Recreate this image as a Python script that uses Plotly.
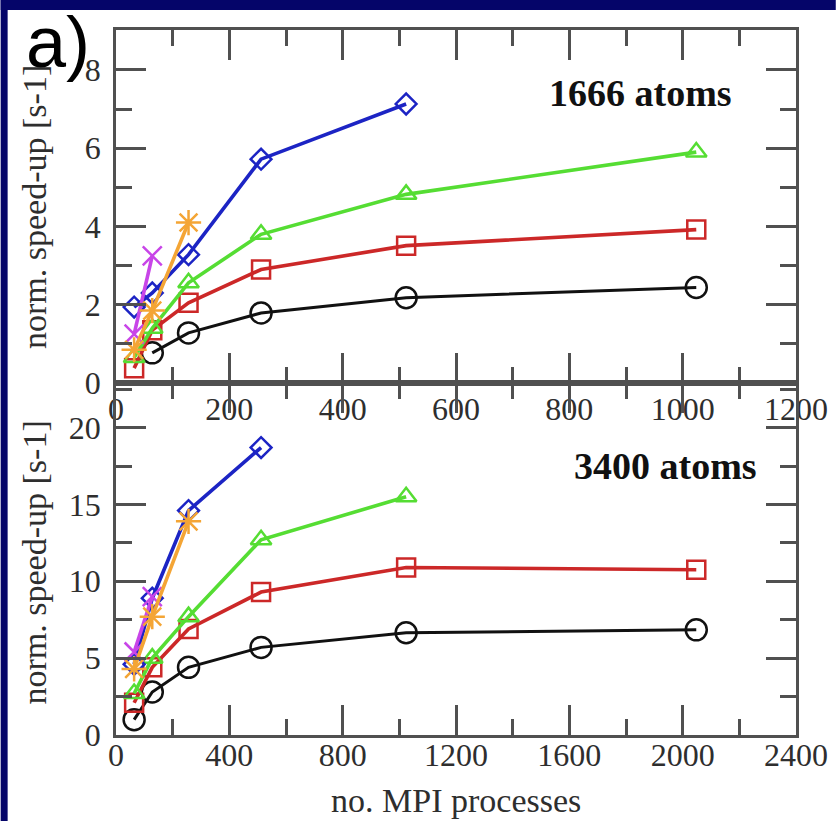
import plotly.graph_objects as go

# ---------------- data ----------------
# top panel: 1666 atoms
x_top = [32, 64, 128, 256, 512, 1024]
top_black = [None, 0.77, 1.28, 1.79, 2.18, 2.44]
top_red = [0.38, 1.35, 2.05, 2.90, 3.51, 3.92]
top_green = [0.65, 1.40, 2.56, 3.80, 4.82, 5.90]
top_blue = [1.94, 2.30, 3.28, 5.72, 7.13, None]
top_magenta = [1.25, 3.25, None, None, None, None]
top_orange = [0.85, 1.85, 4.10, None, None, None]

# bottom panel: 3400 atoms
x_bot = [64, 128, 256, 512, 1024, 2048]
bot_black = [1.0, 2.8, 4.4, 5.7, 6.65, 6.84]
bot_red = [2.1, 4.4, 6.9, 9.3, 10.9, 10.75]
bot_green = [2.7, 5.0, 7.7, 12.7, 15.5, None]
bot_blue = [4.6, 8.9, 14.6, 18.7, None, None]
bot_magenta = [5.4, 9.0, None, None, None, None]
bot_orange = [4.3, 7.7, 13.9, None, None, None]

top_label = "1666 atoms"
bot_label = "3400 atoms"
y_title = "norm. speed-up [s-1]"
x_title = "no. MPI processes"

# ---------------- styles ----------------
series_style = [
    ("black", "#111111", "circle-open", 21),
    ("red", "#cc2828", "square-open", 18),
    ("green", "#55dd33", "triangle-up-open", 18),
    ("blue", "#1c24c4", "diamond-open", 16),
    ("magenta", "#c845e8", "x-thin-open", 19),
    ("orange", "#f4a535", "asterisk-open", 21),
]
top_data = [top_black, top_red, top_green, top_blue, top_magenta, top_orange]
bot_data = [bot_black, bot_red, bot_green, bot_blue, bot_magenta, bot_orange]

fig = go.Figure()

def add(xs, ys, style, xa, ya):
    name, color, sym, size = style
    pts = [(x, y) for x, y in zip(xs, ys) if y is not None]
    fig.add_trace(go.Scatter(
        x=[p[0] for p in pts], y=[p[1] for p in pts],
        mode="lines+markers", xaxis=xa, yaxis=ya, showlegend=False,
        line=dict(color=color, width=3.6 if name != "black" else 3),
        marker=dict(symbol=sym, size=size, color=color,
                    line=dict(color=color, width=2.5)),
        cliponaxis=False,
    ))

for st, d in zip(series_style, top_data):
    add(x_top, d, st, "x", "y")
for st, d in zip(series_style, bot_data):
    add(x_bot, d, st, "x2", "y2")

# ---------------- layout ----------------
W, H = 840, 821
ML, MR, MT, MB = 116, 40, 30, 86
PW, PH = W - ML - MR, H - MT - MB

def px2paper_x(px):
    return (px - ML) / PW

def px2paper_y(py):
    return (H - MB - py) / PH

split = px2paper_y(383)

tickfont = dict(family="Liberation Serif", size=32, color="#2e2e2e")
axcol = "#505050"

def axis_common(**kw):
    d = dict(showline=True, linecolor=axcol, linewidth=2.8, mirror="ticks",
             ticks="inside", ticklen=30, tickwidth=2.5, tickcolor=axcol,
             showgrid=False, zeroline=False, tickfont=tickfont,
             ticklabelstandoff=6)
    d.update(kw)
    return d

fig.update_layout(
    width=W, height=H,
    margin=dict(l=ML, r=MR, t=MT, b=MB),
    paper_bgcolor="white", plot_bgcolor="white",
    xaxis=axis_common(domain=[0, 1], anchor="y", range=[0, 1200], dtick=200, tick0=0,
                      ticklabelstandoff=-4,
                      minor=dict(dtick=100, ticklen=16, tickwidth=2.5, tickcolor=axcol, ticks="inside")),
    yaxis=axis_common(domain=[split, 1], anchor="x", range=[0, 9.02], dtick=2, tick0=0,
                      minor=dict(dtick=1, ticklen=16, tickwidth=2.5, tickcolor=axcol, ticks="inside")),
    xaxis2=axis_common(domain=[0, 1], anchor="y2", range=[0, 2400], dtick=400, tick0=0,
                       ticklabelstandoff=-10,
                       minor=dict(dtick=200, ticklen=16, tickwidth=2.5, tickcolor=axcol, ticks="inside")),
    yaxis2=axis_common(domain=[0, split], anchor="x2", range=[0, 22.9], dtick=5, tick0=0,
                       minor=dict(dtick=2.5, ticklen=16, tickwidth=2.5, tickcolor=axcol, ticks="inside")),
)

navy = "#050569"
fig.add_shape(type="rect", xref="paper", yref="paper", layer="below",
              x0=px2paper_x(0), x1=px2paper_x(7), y0=px2paper_y(H), y1=px2paper_y(0),
              fillcolor=navy, line_width=0)
fig.add_shape(type="rect", xref="paper", yref="paper", layer="below",
              x0=px2paper_x(0), x1=px2paper_x(W), y0=px2paper_y(10), y1=px2paper_y(0),
              fillcolor=navy, line_width=0)

titlefont = dict(family="Liberation Serif", size=34, color="#2e2e2e")
fig.add_annotation(text=y_title, textangle=-90, xref="paper", yref="paper",
                   x=px2paper_x(34), y=px2paper_y(206.5), showarrow=False,
                   font=titlefont, xanchor="center", yanchor="middle")
fig.add_annotation(text=y_title, textangle=-90, xref="paper", yref="paper",
                   x=px2paper_x(34), y=px2paper_y(562), showarrow=False,
                   font=titlefont, xanchor="center", yanchor="middle")
fig.add_annotation(text=x_title, xref="paper", yref="paper",
                   x=px2paper_x(458), y=px2paper_y(801), showarrow=False,
                   font=titlefont, xanchor="center", yanchor="middle")

labfont = dict(family="Liberation Serif", size=38, color="#111111")
fig.add_annotation(text="<b>%s</b>" % top_label, xref="x", yref="y",
                   x=1090, y=7.4, showarrow=False, font=labfont,
                   xanchor="right", yanchor="middle")
fig.add_annotation(text="<b>%s</b>" % bot_label, xref="x2", yref="y2",
                   x=2270, y=17.5, showarrow=False, font=labfont,
                   xanchor="right", yanchor="middle")

fig.add_annotation(text="a)", xref="paper", yref="paper",
                   x=px2paper_x(23), y=px2paper_y(42), showarrow=False,
                   font=dict(family="Liberation Sans", size=72, color="black"),
                   xanchor="left", yanchor="middle")

fig.write_html("out.html")
